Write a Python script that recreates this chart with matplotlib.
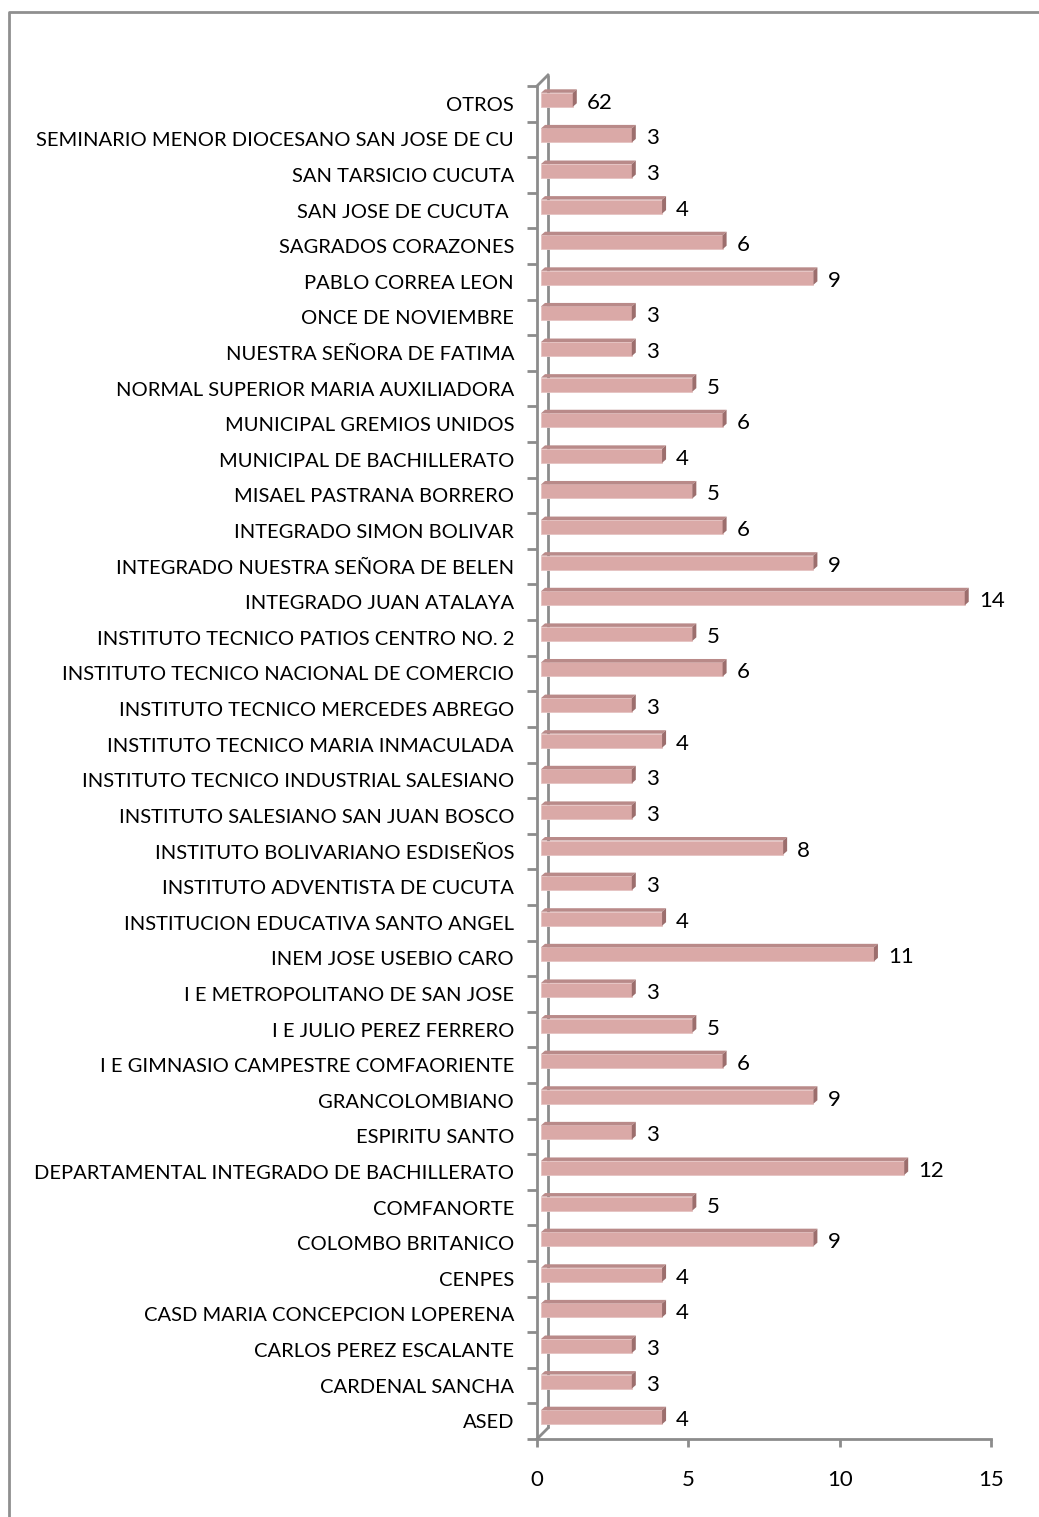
import matplotlib
matplotlib.use("Agg")
import matplotlib.pyplot as plt
from matplotlib.patches import Polygon
from matplotlib.lines import Line2D

categories = [
    "ASED", "CARDENAL SANCHA", "CARLOS PEREZ ESCALANTE", "CASD MARIA CONCEPCION LOPERENA",
    "CENPES", "COLOMBO BRITANICO", "COMFANORTE", "DEPARTAMENTAL INTEGRADO DE BACHILLERATO",
    "ESPIRITU SANTO", "GRANCOLOMBIANO", "I E GIMNASIO CAMPESTRE COMFAORIENTE",
    "I E JULIO PEREZ FERRERO", "I E METROPOLITANO DE SAN JOSE", "INEM JOSE USEBIO CARO",
    "INSTITUCION EDUCATIVA SANTO ANGEL", "INSTITUTO ADVENTISTA DE CUCUTA",
    "INSTITUTO BOLIVARIANO ESDISEÑOS", "INSTITUTO SALESIANO SAN JUAN BOSCO",
    "INSTITUTO TECNICO INDUSTRIAL SALESIANO", "INSTITUTO TECNICO MARIA INMACULADA",
    "INSTITUTO TECNICO MERCEDES ABREGO", "INSTITUTO TECNICO NACIONAL DE COMERCIO",
    "INSTITUTO TECNICO PATIOS CENTRO NO. 2", "INTEGRADO JUAN ATALAYA",
    "INTEGRADO NUESTRA SEÑORA DE BELEN", "INTEGRADO SIMON BOLIVAR",
    "MISAEL PASTRANA BORRERO", "MUNICIPAL DE BACHILLERATO", "MUNICIPAL GREMIOS UNIDOS",
    "NORMAL SUPERIOR MARIA AUXILIADORA", "NUESTRA SEÑORA DE FATIMA", "ONCE DE NOVIEMBRE",
    "PABLO CORREA LEON", "SAGRADOS CORAZONES", "SAN JOSE DE CUCUTA ", "SAN TARSICIO CUCUTA",
    "SEMINARIO MENOR DIOCESANO SAN JOSE DE CU", "OTROS",
]
# bar lengths as drawn
bar_values = [4, 3, 3, 4, 4, 9, 5, 12, 3, 9, 6, 5, 3, 11, 4, 3, 8, 3, 3, 4, 3, 6, 5, 14,
              9, 6, 5, 4, 6, 5, 3, 3, 9, 6, 4, 3, 3, 1.05]
# data labels as printed
data_labels = ["4", "3", "3", "4", "4", "9", "5", "12", "3", "9", "6", "5", "3", "11", "4",
               "3", "8", "3", "3", "4", "3", "6", "5", "14", "9", "6", "5", "4", "6", "5",
               "3", "3", "9", "6", "4", "3", "3", "62"]
xticks = [0, 5, 10, 15]

W, H = 1039, 1517
fig = plt.figure(figsize=(W / 100, H / 100), dpi=100)
plt.rcParams['font.family'] = ['Lato', 'DejaVu Sans']

ax_l, ax_r, ax_t, ax_b = 537, 991, 86, 1439
ax = fig.add_axes([ax_l / W, 1 - ax_b / H, (ax_r - ax_l) / W, (ax_b - ax_t) / H])
n = len(categories)
ax.set_xlim(0, 15)
ax.set_ylim(-0.5, n - 0.5)

pxx = (ax_r - ax_l) / 15.0      # px per x unit
pxy = (ax_b - ax_t) / n         # px per category

grey = "#8c8c8c"
front_c = "#daa9a7"
top_c = "#b98a89"
side_c = "#9c6e6d"

shift_x = 4 / pxx
shift_y = 4 / pxy
dx = 4 / pxx
dy = 3.5 / pxy
h = 14 / pxy

ys = [i + shift_y for i in range(n)]
ax.barh(ys, bar_values, left=shift_x, height=h, color=front_c, edgecolor="#e6c3c2",
        linewidth=0.6, zorder=3)
for y, v, lab in zip(ys, bar_values, data_labels):
    x0 = shift_x
    x1 = shift_x + v
    top = y + h / 2
    bot = y - h / 2
    ax.add_patch(Polygon([(x0, top), (x0 + dx, top + dy), (x1 + dx, top + dy), (x1, top)],
                         closed=True, facecolor=top_c, edgecolor="none", zorder=3))
    ax.add_patch(Polygon([(x1, bot), (x1 + dx, bot + dy), (x1 + dx, top + dy), (x1, top)],
                         closed=True, facecolor=side_c, edgecolor="none", zorder=3))
    ax.annotate(lab, xy=(x1 + dx, y), xytext=(10, -3), textcoords="offset pixels",
                ha="left", va="center", fontsize=16, color="#000000", annotation_clip=False)

# 3D wall lines
wx = 11 / pxx
wy = 11 / pxy
lw = 2.0
ax.plot([wx, wx], [-0.5 + wy, n - 0.5 + wy], color=grey, lw=lw, clip_on=False, zorder=2,
        solid_capstyle="butt")
ax.plot([0, wx], [n - 0.5, n - 0.5 + wy], color=grey, lw=lw, clip_on=False, zorder=2)
ax.plot([0, wx], [-0.5, -0.5 + wy], color=grey, lw=lw, clip_on=False, zorder=2)

for s in ["top", "right"]:
    ax.spines[s].set_visible(False)
for s in ["left", "bottom"]:
    ax.spines[s].set_color(grey)
    ax.spines[s].set_linewidth(lw)

ax.set_xticks(xticks)
ax.set_xticklabels([str(t) for t in xticks], fontsize=16)
ax.tick_params(axis="x", direction="out", length=6, width=lw, color=grey, pad=16)

ax.set_yticks([i - 0.5 for i in range(n + 1)])
ax.set_yticklabels([])
ax.tick_params(axis="y", which="major", direction="out", length=7, width=lw, color=grey)
ax.set_yticks(list(range(n)), minor=True)
ax.set_yticklabels(categories, minor=True, fontsize=14.5)
ax.tick_params(axis="y", which="minor", length=0, pad=16.5)

# outer frame
fig.add_artist(Line2D([9 / W, 9 / W, 1.0], [0.0, 1 - 12 / H, 1 - 12 / H],
                      transform=fig.transFigure, color="#8f8f8f", lw=2))

fig.savefig("out.png", dpi=100)
